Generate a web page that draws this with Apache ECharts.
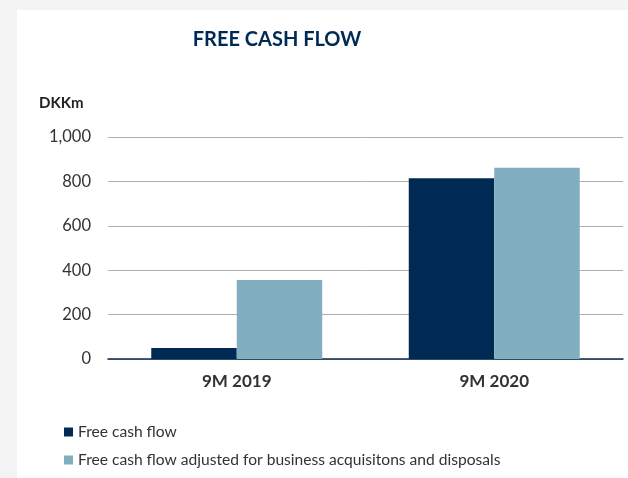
<!DOCTYPE html>
<html><head><meta charset="utf-8">
<script src="https://cdn.jsdelivr.net/npm/echarts@6/dist/echarts.min.js"></script>
<style>html,body{margin:0;padding:0;background:#f4f4f4}#c{width:628px;height:478px}</style>
</head><body><div id="c"></div>
<script>
const categories = ['9M 2019', '9M 2020'];
const seriesNames = ['Free cash flow', 'Free cash flow adjusted for business acquisitons and disposals'];
const freeCashFlow = [50, 814];
const adjustedFreeCashFlow = [356, 862];
const yTicks = [0, 200, 400, 600, 800, 1000];

const FONT = 'Lato, "Open Sans", sans-serif';
const chart = echarts.init(document.getElementById('c'));
chart.setOption({
  backgroundColor: '#f4f4f4',
  textStyle: { fontFamily: FONT },
  graphic: [
    { type: 'rect', z: -10, shape: { x: 17, y: 10, width: 611, height: 468 }, style: { fill: '#ffffff' } },
    { type: 'text', left: 39, top: 96, style: { text: 'DKKm', font: 'bold 15px ' + FONT, fill: '#222222' } }
  ],
  title: {
    text: 'FREE CASH FLOW',
    left: 272, top: 25, textAlign: 'center',
    textStyle: { fontFamily: FONT, fontSize: 20, fontWeight: 'bold', color: '#002a54' }
  },
  legend: {
    orient: 'vertical', left: 59, top: 419,
    itemWidth: 9, itemHeight: 9, itemGap: 12, icon: 'rect',
    textStyle: { fontFamily: FONT, fontSize: 15.6, lineHeight: 16, color: '#333333' },
    data: seriesNames
  },
  grid: { left: 108, right: 5, top: 137, bottom: 119, containLabel: false },
  xAxis: {
    type: 'category', data: categories,
    axisTick: { show: false },
    axisLine: { lineStyle: { color: '#0a2a50', width: 1.5 } },
    axisLabel: { fontFamily: FONT, fontSize: 17, fontWeight: 'bold', color: '#333333', margin: 14 }
  },
  yAxis: {
    type: 'value', min: yTicks[0], max: yTicks[yTicks.length - 1], interval: 200,
    axisLine: { show: false }, axisTick: { show: false },
    splitLine: { lineStyle: { color: '#b0b0b0', width: 1 } },
    axisLabel: { fontFamily: FONT, fontSize: 16.5, color: '#333333', margin: 17,
      formatter: v => v.toLocaleString('en-US') }
  },
  series: [
    { name: seriesNames[0], type: 'bar', data: freeCashFlow, barGap: '0%', barCategoryGap: '33.6%',
      itemStyle: { color: '#002a54' } },
    { name: seriesNames[1], type: 'bar', data: adjustedFreeCashFlow, barGap: '0%', barCategoryGap: '33.6%',
      itemStyle: { color: '#82afbf' } }
  ]
});
</script></body></html>
